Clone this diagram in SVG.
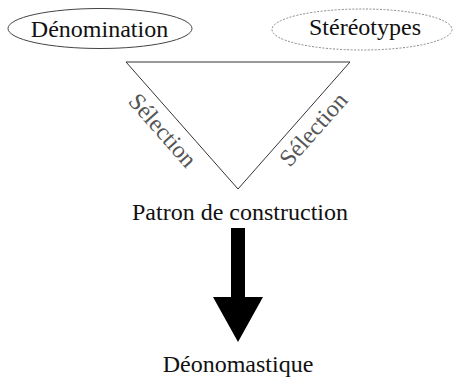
<svg xmlns="http://www.w3.org/2000/svg" width="453" height="379" viewBox="0 0 453 379">
<style>
text{font-family:"Liberation Serif","Times New Roman",serif;font-size:24px;fill:#111;text-anchor:middle}
.sel{fill:#555}
</style>
<rect width="453" height="379" fill="#fff"/>
<g id="denomination">
<ellipse cx="100" cy="28.5" rx="92" ry="20" fill="none" stroke="#444" stroke-width="1"/>
<text x="99.5" y="37">Dénomination</text>
</g>
<g id="stereotypes">
<ellipse cx="362" cy="29.5" rx="90" ry="20.5" fill="none" stroke="#888" stroke-width="1" stroke-dasharray="2,1.5"/>
<text x="365" y="35">Stéréotypes</text>
</g>
<g id="triangle">
<line x1="126" y1="62" x2="350" y2="62" stroke="#999" stroke-width="2"/>
<line x1="126" y1="62" x2="238" y2="189" stroke="#333" stroke-width="1"/>
<line x1="350" y1="62" x2="238" y2="189" stroke="#333" stroke-width="1"/>
<text class="sel" x="156.7" y="135.6" transform="rotate(48.6 156.7 135.6)">Sélection</text>
<text class="sel" x="319.3" y="134.6" transform="rotate(-48.6 319.3 134.6)">Sélection</text>
</g>
<g id="patron">
<text x="240" y="220">Patron de construction</text>
</g>
<g id="connectors">
<polygon points="231,228 245,228 245,297 263,297 238,342 213,297 231,297" fill="#000"/>
</g>
<g id="deonomastique">
<text x="238" y="372">Déonomastique</text>
</g>
</svg>
